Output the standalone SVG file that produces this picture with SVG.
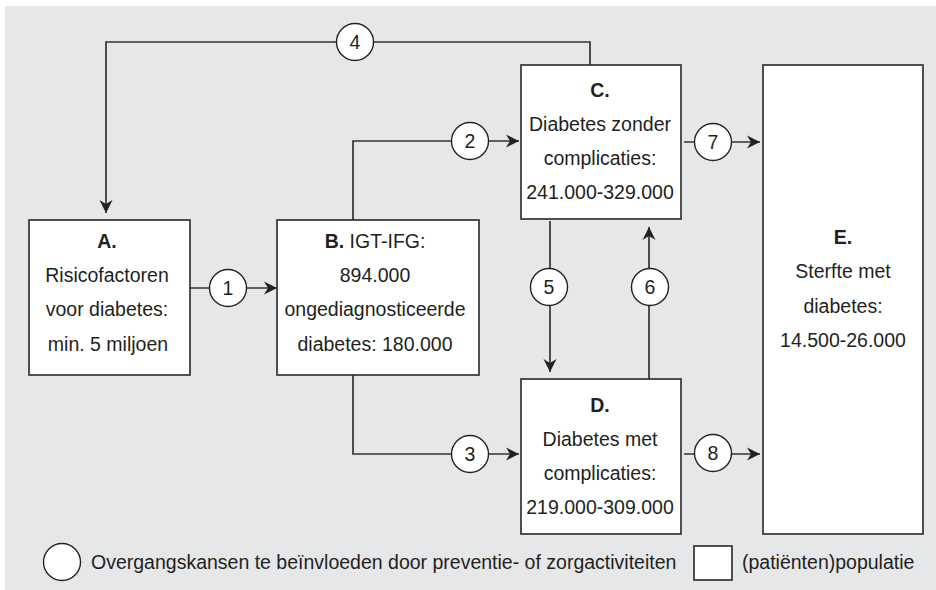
<svg xmlns="http://www.w3.org/2000/svg" width="936" height="590" viewBox="0 0 936 590">
<style>
.bx{fill:#fff;stroke:#333;stroke-width:1.7}
.ln{fill:none;stroke:#333;stroke-width:1.7}
.ci{fill:#fff;stroke:#222;stroke-width:1.4}
text{font-family:"Liberation Sans",Arial,sans-serif;font-size:19.5px;fill:#231f20;text-anchor:middle}
.b{font-weight:bold}
.st{text-anchor:start}
</style>
<defs>
<marker id="ah" markerUnits="userSpaceOnUse" markerWidth="16" markerHeight="16" viewBox="-14 -8 16 16" refX="0" refY="0" orient="auto">
<path d="M0,0 L-13,-6.5 L-9,0 L-13,6.5 Z" fill="#222"/>
</marker>
</defs>
<rect x="5" y="6" width="931" height="584" fill="#e6e7e9"/>
<g id="connectors">
<path class="ln" d="M590,65 V42 H106 V213" marker-end="url(#ah)"/>
<path class="ln" d="M353,220 V141 H519" marker-end="url(#ah)"/>
<path class="ln" d="M190,288 H277" marker-end="url(#ah)"/>
<path class="ln" d="M353,375 V454 H519" marker-end="url(#ah)"/>
<path class="ln" d="M684,142 H760" marker-end="url(#ah)"/>
<path class="ln" d="M684,454 H760" marker-end="url(#ah)"/>
<path class="ln" d="M550,221 V372" marker-end="url(#ah)"/>
<path class="ln" d="M649,379 V227" marker-end="url(#ah)"/>
<g id="c1"><circle class="ci" cx="228" cy="288" r="18.5"/><text x="228" y="295">1</text></g>
<g id="c2"><circle class="ci" cx="470" cy="141" r="18.5"/><text x="470" y="148">2</text></g>
<g id="c3"><circle class="ci" cx="470" cy="454" r="18.5"/><text x="470" y="461">3</text></g>
<g id="c4"><circle class="ci" cx="355" cy="42" r="18.5"/><text x="355" y="49">4</text></g>
<g id="c5"><circle class="ci" cx="549" cy="287" r="18.5"/><text x="549" y="294">5</text></g>
<g id="c6"><circle class="ci" cx="650" cy="287" r="18.5"/><text x="650" y="294">6</text></g>
<g id="c7"><circle class="ci" cx="713" cy="142" r="18.5"/><text x="713" y="149">7</text></g>
<g id="c8"><circle class="ci" cx="713" cy="453" r="18.5"/><text x="713" y="460">8</text></g>
</g>
<g id="A">
<rect class="bx" x="29" y="220" width="161" height="155"/>
<text x="107" y="248" class="b">A.</text>
<text x="107" y="282">Risicofactoren</text>
<text x="107" y="316">voor diabetes:</text>
<text x="108" y="351">min. 5 miljoen</text>
</g>
<g id="B">
<rect class="bx" x="277" y="220" width="202" height="155"/>
<text x="375" y="248"><tspan class="b">B.</tspan> IGT-IFG:</text>
<text x="375" y="282">894.000</text>
<text x="375" y="316">ongediagnosticeerde</text>
<text x="375" y="351">diabetes: 180.000</text>
</g>
<g id="C">
<rect class="bx" x="521" y="65" width="160" height="154"/>
<text x="600" y="97" class="b">C.</text>
<text x="600" y="131">Diabetes zonder</text>
<text x="600" y="165">complicaties:</text>
<text x="600" y="199">241.000-329.000</text>
</g>
<g id="D">
<rect class="bx" x="521" y="379" width="160" height="155"/>
<text x="600" y="412" class="b">D.</text>
<text x="600" y="446">Diabetes met</text>
<text x="600" y="480">complicaties:</text>
<text x="600" y="514">219.000-309.000</text>
</g>
<g id="E">
<rect class="bx" x="763" y="65" width="160" height="469"/>
<text x="843" y="244" class="b">E.</text>
<text x="843" y="278">Sterfte met</text>
<text x="843" y="313">diabetes:</text>
<text x="843" y="347">14.500-26.000</text>
</g>
<g id="legend">
<circle class="ci" cx="62" cy="562" r="18.5"/>
<text x="91" y="569" class="st">Overgangskansen te beïnvloeden door preventie- of zorgactiviteiten</text>
<rect class="bx" x="694" y="546" width="38" height="34"/>
<text x="742" y="569" class="st">(patiënten)populatie</text>
</g>
</svg>
